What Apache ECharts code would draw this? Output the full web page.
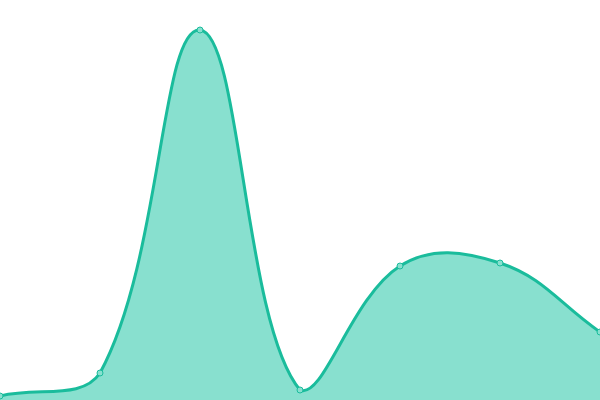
<!DOCTYPE html>
<html>
<head>
<meta charset="utf-8">
<script src="https://cdn.jsdelivr.net/npm/echarts@6.0.0/dist/echarts.min.js"></script>
<style>
  html, body { margin: 0; padding: 0; background: #fff; }
  #chart { width: 600px; height: 400px; }
</style>
</head>
<body>
<div id="chart"></div>
<script>
const categories = ['A', 'B', 'C', 'D', 'E', 'F', 'G'];
const values = [4, 27, 370, 10, 134, 137, 68];

const LINE = '#1abc9c';
const FILL = '#88e0cf';
const TENSION = 0.4;

// cardinal-style control points (tension 0.4), kept inside the plot box
function controlPoints(pts, box) {
  const clamp = (p) => [
    Math.min(Math.max(p[0], box.x), box.x + box.width),
    Math.min(Math.max(p[1], box.y), box.y + box.height)
  ];
  return pts.map((cur, i) => {
    const prev = pts[i - 1] || cur;
    const next = pts[i + 1] || cur;
    const d01 = Math.hypot(cur[0] - prev[0], cur[1] - prev[1]);
    const d12 = Math.hypot(next[0] - cur[0], next[1] - cur[1]);
    const sum = d01 + d12 || 1;
    const fa = TENSION * d01 / sum;
    const fb = TENSION * d12 / sum;
    const dx = next[0] - prev[0], dy = next[1] - prev[1];
    return {
      before: clamp([cur[0] - fa * dx, cur[1] - fa * dy]),
      after: clamp([cur[0] + fb * dx, cur[1] + fb * dy])
    };
  });
}

function curvePath(pts, cps) {
  let d = 'M' + pts[0][0] + ',' + pts[0][1];
  for (let i = 1; i < pts.length; i++) {
    const a = cps[i - 1].after, b = cps[i].before;
    d += ' C' + a[0] + ',' + a[1] + ' ' + b[0] + ',' + b[1] + ' ' + pts[i][0] + ',' + pts[i][1];
  }
  return d;
}

function renderItem(params, api) {
  const children = [];
  if (params.dataIndex === 0) {
    const pts = values.map((v, i) => api.coord([i, v]));
    const cps = controlPoints(pts, params.coordSys);
    const line = curvePath(pts, cps);
    const base = api.coord([0, 0])[1];
    const last = pts[pts.length - 1];
    const area = line + ' L' + last[0] + ',' + base + ' L' + pts[0][0] + ',' + base + ' Z';
    children.push({ type: 'path', shape: { pathData: area }, style: { fill: FILL } });
    children.push({ type: 'path', shape: { pathData: line }, style: { fill: null, stroke: LINE, lineWidth: 3 } });
  }
  return { type: 'group', children: children };
}

function renderSymbol(params, api) {
  const p = api.coord([api.value(0), api.value(1)]);
  return { type: 'circle', shape: { cx: p[0], cy: p[1], r: 3 }, style: { fill: FILL, stroke: LINE, lineWidth: 1 } };
}

const seriesData = values.map((v, i) => [i, v]);

const chart = echarts.init(document.getElementById('chart'));
chart.setOption({
  animation: false,
  grid: { left: 0, right: 0, top: 0, bottom: 0 },
  xAxis: { type: 'category', data: categories, boundaryGap: false, show: false },
  yAxis: { type: 'value', min: 0, max: 400, show: false },
  series: [
    { type: 'custom', renderItem: renderItem, data: seriesData, clip: true },
    { type: 'custom', renderItem: renderSymbol, data: seriesData }
  ]
});
</script>
</body>
</html>
